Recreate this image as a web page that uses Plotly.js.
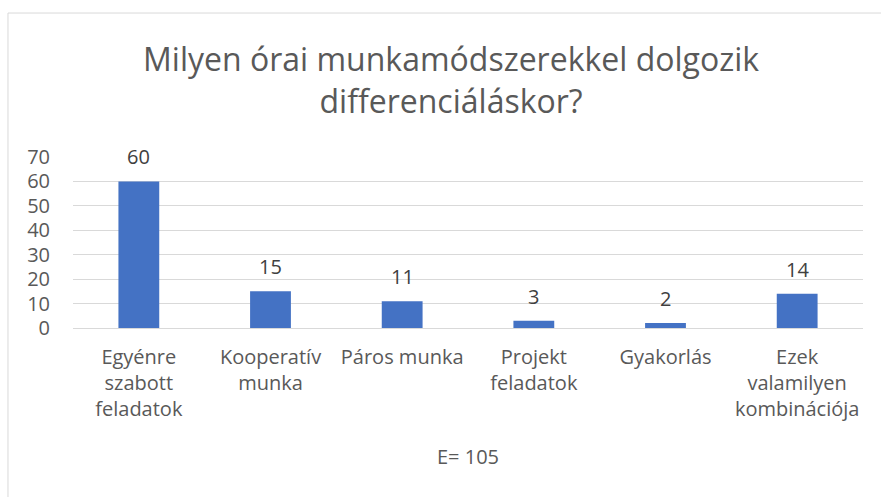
<!DOCTYPE html>
<html>
<head>
<meta charset="utf-8">
<script src="https://cdn.plot.ly/plotly-3.0.1.min.js"></script>
<style>html,body{margin:0;padding:0;background:#fff;}#chart{width:881px;height:497px;}</style>
</head>
<body>
<div id="chart"></div>
<script>
const categories = ["Egyénre<br>szabott<br>feladatok", "Kooperatív<br>munka", "Páros munka", "Projekt<br>feladatok", "Gyakorlás", "Ezek<br>valamilyen<br>kombinációja"];
const values = [60, 15, 11, 3, 2, 14];
const yTicks = [0, 10, 20, 30, 40, 50, 60, 70];
const titleText = "Milyen órai munkamódszerekkel dolgozik<br>differenciáláskor?";
const xTitle = "E= 105";

const FONT = "'Open Sans', sans-serif";
const trace = {
  type: "bar",
  x: categories,
  y: values,
  marker: {color: "#4472C4"},
  hoverinfo: "none"
};
const labels = categories.map((c, i) => ({
  x: c, y: values[i], xref: "x", yref: "y",
  text: String(values[i]), showarrow: false,
  yanchor: "bottom", yshift: 9,
  font: {family: FONT, size: 20, color: "#404040"}
}));
const layout = {
  width: 881, height: 497,
  margin: {l: 73, r: 18, t: 157, b: 169},
  paper_bgcolor: "#ffffff", plot_bgcolor: "#ffffff",
  showlegend: false,
  bargap: 0.69,
  title: {text: titleText, font: {family: FONT, size: 32, color: "#595959"}, x: 0.512, xanchor: "center", yref: "container", y: 0.857, yanchor: "middle"},
  font: {family: FONT, color: "#595959"},
  xaxis: {
    tickfont: {family: FONT, size: 20, color: "#595959"},
    showgrid: false, showline: true, linecolor: "#d9d9d9", linewidth: 1,
    ticks: "", ticklabelstandoff: 11,
    title: {text: xTitle, font: {family: FONT, size: 20, color: "#595959"}, standoff: 28}
  },
  yaxis: {
    range: [0, 70], tickvals: yTicks, ticktext: yTicks.map(String),
    tickfont: {family: FONT, size: 20, color: "#595959"},
    showgrid: true, gridcolor: "#d9d9d9", gridwidth: 1,
    zeroline: false, showline: false, ticks: "", ticklabelstandoff: 22
  },
  annotations: labels,
  shapes: [{
    type: "rect", xref: "paper", yref: "paper",
    x0: -0.0823, x1: 1.04, y0: -1.1, y1: 1.842,
    line: {color: "#d9d9d9", width: 1}, fillcolor: "rgba(0,0,0,0)", layer: "below"
  }]
};
Plotly.newPlot("chart", [trace], layout, {staticPlot: true, displayModeBar: false});
</script>
</body>
</html>
